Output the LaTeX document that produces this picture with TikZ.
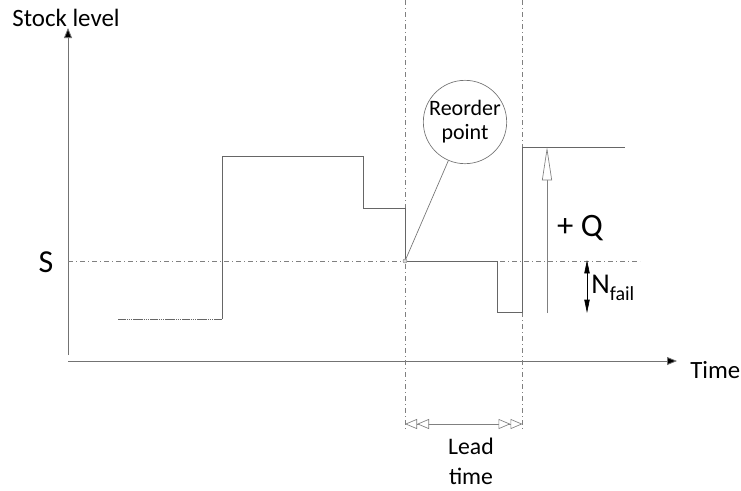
\documentclass[tikz,border=0pt]{standalone}
\usepackage{fontspec}
\setmainfont{Carlito}
\usetikzlibrary{arrows.meta}
\begin{document}
\begin{tikzpicture}[x=0.75pt,y=-0.75pt,
  axis/.style={draw=black!55,line width=0.6pt,-{Triangle[length=7.5pt,width=6pt,fill=black]}},
  stock/.style={draw=black!60,line width=0.6pt},
  guide/.style={draw=black!50,line width=0.5pt,dash pattern=on 4pt off 2pt on 1pt off 2pt},
  lbl/.style={inner sep=0pt,text=black}]
\useasboundingbox (0,0) rectangle (741,490);
% coordinates
\coordinate (O) at (68,361);
\coordinate (ytop) at (68,28);
\coordinate (xend) at (677,361);
\coordinate (yb) at (68,355);
\coordinate (s0) at (118,319);
\coordinate (s1) at (222,319);
\coordinate (s2) at (222,156);
\coordinate (s3) at (363,156);
\coordinate (s4) at (363,208);
\coordinate (s5) at (405,208);
\coordinate (R) at (405,261);
\coordinate (s7) at (497,261);
\coordinate (s8) at (497,312);
\coordinate (s9) at (522,312);
\coordinate (s10) at (522,147);
\coordinate (s11) at (625,147);
\coordinate (Sl) at (68,261);
\coordinate (Sr) at (640,261);
\coordinate (v1t) at (405,0);
\coordinate (v1b) at (405,430);
\coordinate (v2t) at (522.5,0);
\coordinate (v2b) at (522.5,430);
\coordinate (qb) at (547,313);
\coordinate (qt) at (547,147);
\coordinate (nt) at (587,260);
\coordinate (nb) at (587,313);
\coordinate (la) at (405,424);
\coordinate (lb) at (522.5,424);
% axes
\draw[axis] (yb) -- (ytop);
\draw[axis] (O) -- (xend);
% guides
\draw[guide] (Sl) -- (Sr);
\draw[guide] (v1t) -- (v1b);
\draw[guide] (v2t) -- (v2b);
% stock curve
\draw[stock,dash pattern=on 1.2pt off 0.4pt] (s0) -- (s1);
\draw[stock] (s1) -- (s2) -- (s3) -- (s4) -- (s5) -- (R) -- (s7) -- (s8) -- (s9) -- (s10) -- (s11);
% reorder point
\node[draw=black!55,line width=0.5pt,circle,minimum size=61.5pt,inner sep=0pt,align=center,font=\fontsize{16.5}{18}\selectfont] (rp) at (465,122) {Reorder\\point};
\draw[draw=black!55,line width=0.5pt] (R) -- (rp);
\node[circle,draw=black!45,fill=black!15,minimum size=3pt,inner sep=0pt] (rdot) at (R) {};
% +Q arrow
\draw[draw=black!50,line width=0.5pt,-{Triangle[open,length=25pt,width=7.5pt,fill=white]}] (qb) -- (qt);
\node[lbl,font=\fontsize{24.5}{26}\selectfont] (q) at (580,228) {+ Q};
% N fail
\draw[draw=black,line width=0.5pt,{Triangle[length=10pt,width=4pt]}-{Triangle[length=10pt,width=4pt]}] (nt) -- (nb);
\node[lbl,anchor=west,font=\fontsize{21.5}{23}\selectfont] (nf) at (591,288) {N\raisebox{-0.22em}{\fontsize{15}{16}\selectfont fail}};
% lead time
\draw[draw=black!50,line width=0.5pt,{Triangle[open,length=9pt,width=7.5pt,fill=white] Triangle[open,length=9pt,width=7.5pt,fill=white]}-{Triangle[open,length=9pt,width=7.5pt,fill=white] Triangle[open,length=9pt,width=7.5pt,fill=white]}] (la) -- (lb);
\node[lbl,align=center,font=\fontsize{17.8}{22.5}\selectfont] (lt) at (471,461) {Lead\\time};
% labels
\node[lbl,font=\fontsize{18.7}{20}\selectfont] (sl) at (66,18) {Stock level};
\node[lbl,anchor=west,font=\fontsize{18.6}{20}\selectfont] (tm) at (690,370) {Time};
\node[lbl,font=\fontsize{24}{26}\selectfont] (S) at (46,262) {S};
\end{tikzpicture}
\end{document}
